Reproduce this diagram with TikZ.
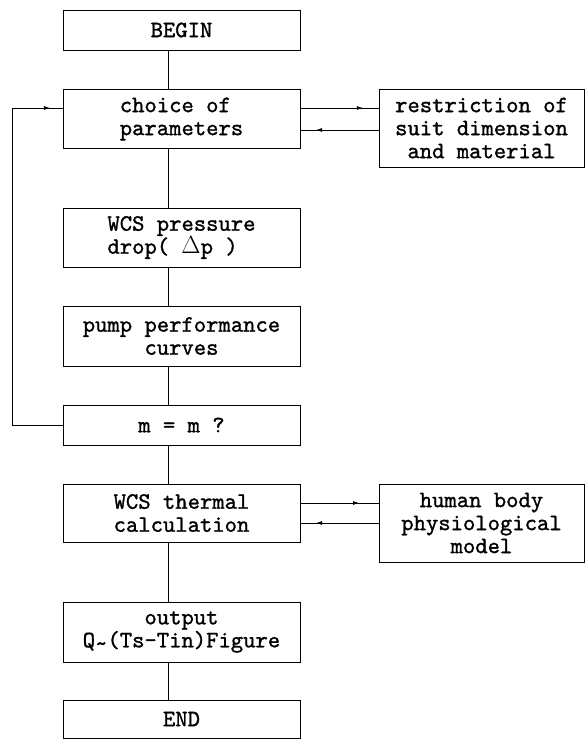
\documentclass[tikz,border=0pt]{standalone}
\usepackage{fontspec}
\newfontfamily\flowfont[Extension=.otf, FakeBold=1.2]{lmmono10-regular}
\usetikzlibrary{arrows.meta,decorations.markings}
\tikzset{
  flow/.style={draw, line width=0.8pt, minimum width=237pt, inner sep=0pt,
    font=\flowfont\fontsize{23.5}{23}\selectfont},
  side/.style={flow, minimum width=205pt},
  midarrow/.style={line width=0.8pt, postaction={decorate},
    decoration={markings, mark=at position #1 with {\arrow{Latex[length=6pt,width=4pt]}}}}
}
\begin{document}
\begin{tikzpicture}[x=1pt,y=-1pt,line width=0.8pt]
  \useasboundingbox (0,0) rectangle (585,740);
  \node[flow, minimum height=40pt] at (181.5,30) (B) {BEGIN};
  \node[flow, minimum height=59pt, align=left] at (181.5,119) (C) {choice of\\parameters};
  \node[side, minimum height=78pt, align=center] at (481.5,128) (R) {restriction of\\suit dimension\\and material};
  \node[flow, minimum height=59pt, align=left] at (181.5,237.5) (P) {WCS pressure\\drop( {$\Delta$}p )};
  \node[flow, minimum height=60pt, align=center] at (181.5,336) (U) {pump performance\\curves};
  \node[flow, minimum height=40pt] at (181.5,425) (M) {m = m ?};
  \node[flow, minimum height=58pt, align=center] at (181.5,513) (T) {WCS thermal\\calculation};
  \node[side, minimum height=78pt, align=center] at (481.5,523) (H) {human body\\physiological\\model};
  \node[flow, minimum height=60pt, align=center] at (181.5,632) (O) {output\\Q\raisebox{-0.35ex}{\textasciitilde}(Ts-Tin)Figure};
  \node[flow, minimum height=38pt] at (181.5,719) (E) {END};
  \coordinate (S) at (168,0);
  \coordinate (L) at (12,108);
  \draw (B.south -| S) -- (C.north -| S); \draw (C.south -| S) -- (P.north -| S);
  \draw (P.south -| S) -- (U.north -| S); \draw (U.south -| S) -- (M.north -| S);
  \draw (M.south -| S) -- (T.north -| S); \draw (T.south -| S) -- (O.north -| S);
  \draw (O.south -| S) -- (E.north -| S);
  \draw (M.west) -| (L); \draw[midarrow=0.75] (L) -- (L -| C.west);
  \draw[midarrow=0.8] ([yshift=11pt]C.east) -- ([yshift=11pt]C.east -| R.west);
  \draw[midarrow=0.8] ([yshift=-11pt]C.east -| R.west) -- ([yshift=-11pt]C.east);
  \draw[midarrow=0.75] ([yshift=10pt]T.east) -- ([yshift=10pt]T.east -| H.west);
  \draw[midarrow=0.8] ([yshift=-10pt]T.east -| H.west) -- ([yshift=-10pt]T.east);
\end{tikzpicture}
\end{document}
